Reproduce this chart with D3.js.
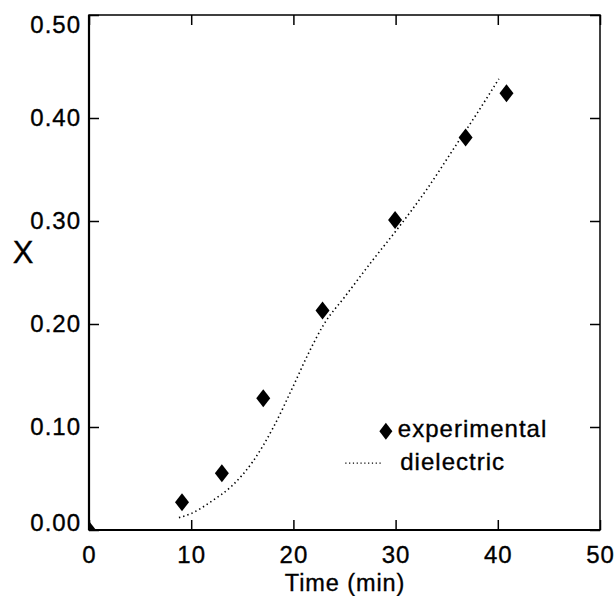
<!DOCTYPE html>
<html>
<head>
<meta charset="utf-8">
<script src="https://cdn.jsdelivr.net/npm/d3@7"></script>
<style>
  body { margin: 0; background: #fff; }
  text { font-family: "Liberation Sans", Arial, sans-serif; fill: #000; stroke: #000; stroke-width: 0.35px; }
</style>
</head>
<body>
<div id="chart"></div>
<script>
// measured points (min, conversion)
const expTime = [0, 9.1, 13.0, 17.05, 22.85, 29.95, 36.85, 40.85];
const expX = [0.0, 0.027, 0.055, 0.128, 0.213, 0.301, 0.381, 0.424];

// dielectric estimate
const dieTime = [8.8, 10, 12, 14, 16, 18, 20, 21.5, 23, 25, 28, 30, 33, 36, 38, 40.1];
const dieX = [0.012, 0.016, 0.028, 0.043, 0.066, 0.099, 0.14, 0.172, 0.2, 0.226, 0.265, 0.29, 0.33, 0.375, 0.405, 0.438];

const xTicks = [0, 10, 20, 30, 40, 50];
const yTicks = [0, 0.1, 0.2, 0.3, 0.4, 0.5];

const width = 615, height = 596;
const margin = {top: 15, right: 15, bottom: 66, left: 89};
const innerW = width - margin.left - margin.right;
const innerH = height - margin.top - margin.bottom;

const svg = d3.select('#chart')
  .append('svg')
    .attr('width', width)
    .attr('height', height);

const g = svg.append('g')
  .attr('transform', `translate(${margin.left},${margin.top})`);

const x = d3.scaleLinear().domain([0, 50]).range([0, innerW]);
const y = d3.scaleLinear().domain([0, 0.5]).range([innerH, 0]);

g.append('clipPath').attr('id', 'plot-clip')
  .append('rect').attr('width', innerW).attr('height', innerH);

// frame
g.append('rect')
  .attr('width', innerW).attr('height', innerH)
  .attr('fill', 'none').attr('stroke', '#000').attr('stroke-width', 1.5);
g.append('line').attr('x1', 0).attr('x2', 0).attr('y1', 0).attr('y2', innerH)
  .attr('stroke', '#000').attr('stroke-width', 2.2);
g.append('line').attr('x1', 0).attr('x2', innerW).attr('y1', innerH).attr('y2', innerH)
  .attr('stroke', '#000').attr('stroke-width', 2.2);

// inward ticks on all sides
const tickLen = 10;
const fmtY = d3.format('.2f');

const axBottom = g.append('g').attr('transform', `translate(0,${innerH})`)
  .call(d3.axisBottom(x).tickValues(xTicks).tickSize(-tickLen).tickPadding(16).tickFormat(d3.format('d')));
const axTop = g.append('g')
  .call(d3.axisTop(x).tickValues(xTicks).tickSize(-tickLen).tickFormat(''));
const axLeft = g.append('g')
  .call(d3.axisLeft(y).tickValues(yTicks).tickSize(-tickLen).tickPadding(8).tickFormat(fmtY));
const axRight = g.append('g').attr('transform', `translate(${innerW},0)`)
  .call(d3.axisRight(y).tickValues(yTicks).tickSize(-tickLen).tickFormat(''));

[axBottom, axTop, axLeft, axRight].forEach(a => {
  a.select('.domain').remove();
  a.selectAll('.tick line').attr('stroke', '#000').attr('stroke-width', 1.5);
  a.selectAll('text')
    .attr('font-family', '"Liberation Sans", Arial, sans-serif')
    .attr('font-size', 24)
    .attr('letter-spacing', 1)
    .attr('fill', '#000');
});
// end labels sit inside the frame
axLeft.selectAll('.tick text').attr('dy', d => d === 0.5 ? '0.73em' : d === 0 ? '0.03em' : '0.32em');

// dielectric curve
g.append('path')
  .datum(dieTime.map((t, i) => [t, dieX[i]]))
  .attr('fill', 'none')
  .attr('stroke', '#000')
  .attr('stroke-width', 1.6)
  .attr('stroke-dasharray', '1.4,3')
  .attr('d', d3.line().curve(d3.curveMonotoneX).x(d => x(d[0])).y(d => y(d[1])));

// diamonds
const diamond = (w, h) => `M0,${-h / 2}L${w / 2},0L0,${h / 2}L${-w / 2},0Z`;
g.append('g').attr('clip-path', 'url(#plot-clip)')
  .selectAll('path')
  .data(expTime.map((t, i) => [t, expX[i]]))
  .join('path')
    .attr('transform', d => `translate(${x(d[0])},${y(d[1])})`)
    .attr('d', diamond(14, 18))
    .attr('fill', '#000');

// legend
const leg = g.append('g').attr('transform', `translate(${x(28.5)},${y(0.095)})`);
leg.append('path').attr('transform', 'translate(5.6,-1)').attr('d', diamond(13, 17)).attr('fill', '#000');
leg.append('text').attr('x', 17.6).attr('y', 5).attr('font-size', 24).attr('letter-spacing', 1).text('experimental');
leg.append('line').attr('x1', -35).attr('x2', 2).attr('y1', 31).attr('y2', 31)
  .attr('stroke', '#000').attr('stroke-width', 1.2).attr('stroke-dasharray', '1.2,2.6');
leg.append('text').attr('x', 20).attr('y', 38).attr('font-size', 24).attr('letter-spacing', 1).text('dielectric');

// axis titles
svg.append('text')
  .attr('x', 345)
  .attr('y', 591)
  .attr('text-anchor', 'middle')
  .attr('font-size', 23.5)
  .attr('letter-spacing', 0.9)
  .text('Time (min)');
svg.append('text')
  .attr('x', 23)
  .attr('y', 263)
  .attr('text-anchor', 'middle')
  .attr('font-size', 31)
  .text('X');
</script>
</body>
</html>
